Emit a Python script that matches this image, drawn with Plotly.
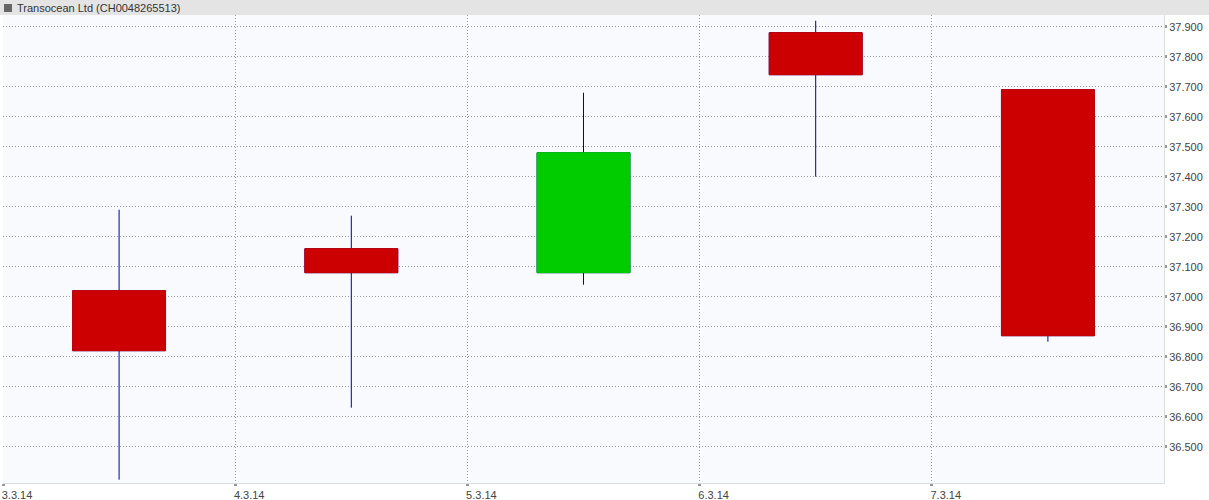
import plotly.graph_objects as go

title_text = "Transocean Ltd (CH0048265513)"
dates = ["2014-03-03 12:00", "2014-03-04 12:00", "2014-03-05 12:00", "2014-03-06 12:00", "2014-03-07 12:00"]
open_ = [37.02, 37.16, 37.08, 37.88, 37.69]
high = [37.29, 37.27, 37.68, 37.92, 37.69]
low = [36.39, 36.63, 37.04, 37.40, 36.85]
close = [36.82, 37.08, 37.48, 37.74, 36.87]
tick_dates = ["2014-03-03", "2014-03-04", "2014-03-05", "2014-03-06", "2014-03-07"]
tick_labels = ["3.3.14", "4.3.14", "5.3.14", "6.3.14", "7.3.14"]
y_ticks = [36.5, 36.6, 36.7, 36.8, 36.9, 37.0, 37.1, 37.2, 37.3, 37.4, 37.5, 37.6, 37.7, 37.8, 37.9]
y_tick_labels = ["36.500", "36.600", "36.700", "36.800", "36.900", "37.000", "37.100", "37.200",
                 "37.300", "37.400", "37.500", "37.600", "37.700", "37.800", "37.900"]

UP = "#00cc00"
DOWN = "#cc0000"
WICK = "#00009a"

W, H = 1209, 500
L, R, T, B = 3, 45, 15, 17
pw = W - L - R
ph = H - T - B

body_hi = [max(o, c) for o, c in zip(open_, close)]
body_lo = [min(o, c) for o, c in zip(open_, close)]

fig = go.Figure()
fig.add_trace(go.Candlestick(
    x=dates, open=open_, high=high, low=low, close=close,
    increasing=dict(fillcolor=UP, line=dict(color=WICK, width=1)),
    decreasing=dict(fillcolor=DOWN, line=dict(color=WICK, width=1)),
    whiskerwidth=0, showlegend=False, hoverinfo="skip",
))
fig.add_trace(go.Candlestick(
    x=dates, open=open_, high=body_hi, low=body_lo, close=close,
    increasing=dict(fillcolor=UP, line=dict(color=UP, width=1)),
    decreasing=dict(fillcolor=DOWN, line=dict(color=DOWN, width=1)),
    whiskerwidth=0, showlegend=False, hoverinfo="skip",
))

font = dict(family="Liberation Sans, Arial, sans-serif", size=11, color="#444444")

fig.update_layout(
    width=W, height=H,
    margin=dict(l=L, r=R, t=T, b=B, autoexpand=False),
    paper_bgcolor="white",
    plot_bgcolor="#f9fafe",
    boxgap=0.6, boxgroupgap=0,
    showlegend=False,
    font=font,
    xaxis=dict(
        type="date",
        range=["2014-03-03", "2014-03-08"],
        rangeslider=dict(visible=False),
        tickmode="array", tickvals=tick_dates, ticktext=tick_labels,
        ticklabelshift=14,
        showgrid=True, gridcolor="#9a9a9a", griddash="1px,2px", gridwidth=1,
        ticks="outside", ticklen=2, tickwidth=3, tickcolor="#999999",
        showline=True, linecolor="#dddddd", linewidth=1,
        zeroline=False, automargin=False,
        tickfont=font,
    ),
    yaxis=dict(
        side="right",
        range=[36.379, 37.939],
        tickmode="array", tickvals=y_ticks, ticktext=y_tick_labels,
        showgrid=True, gridcolor="#9a9a9a", griddash="1px,2px", gridwidth=1,
        ticks="outside", ticklen=2, tickwidth=3, tickcolor="#999999",
        showline=True, linecolor="#dddddd", linewidth=1,
        zeroline=False, automargin=False,
        tickfont=font,
    ),
    shapes=[
        dict(type="rect", xref="paper", yref="paper",
             x0=-L / pw, x1=(W - L) / pw, y0=1, y1=1 + T / ph,
             fillcolor="#e4e4e4", line=dict(width=0), layer="above"),
        dict(type="rect", xref="paper", yref="paper",
             x0=(4 - L) / pw, x1=(12 - L) / pw, y0=1 + 3 / ph, y1=1 + 11 / ph,
             fillcolor="#666666", line=dict(width=0), layer="above"),
    ],
    annotations=[
        dict(text=title_text, xref="paper", yref="paper",
             x=(15 - L) / pw, y=1 + 7.5 / ph, xanchor="left", yanchor="middle",
             showarrow=False, font=dict(family="Liberation Sans, Arial, sans-serif", size=11, color="#333333")),
    ],
)

fig.write_html(
    "out.html",
    config={"displayModeBar": False},
    post_script="document.body.style.margin='0';document.body.style.padding='0';",
)
